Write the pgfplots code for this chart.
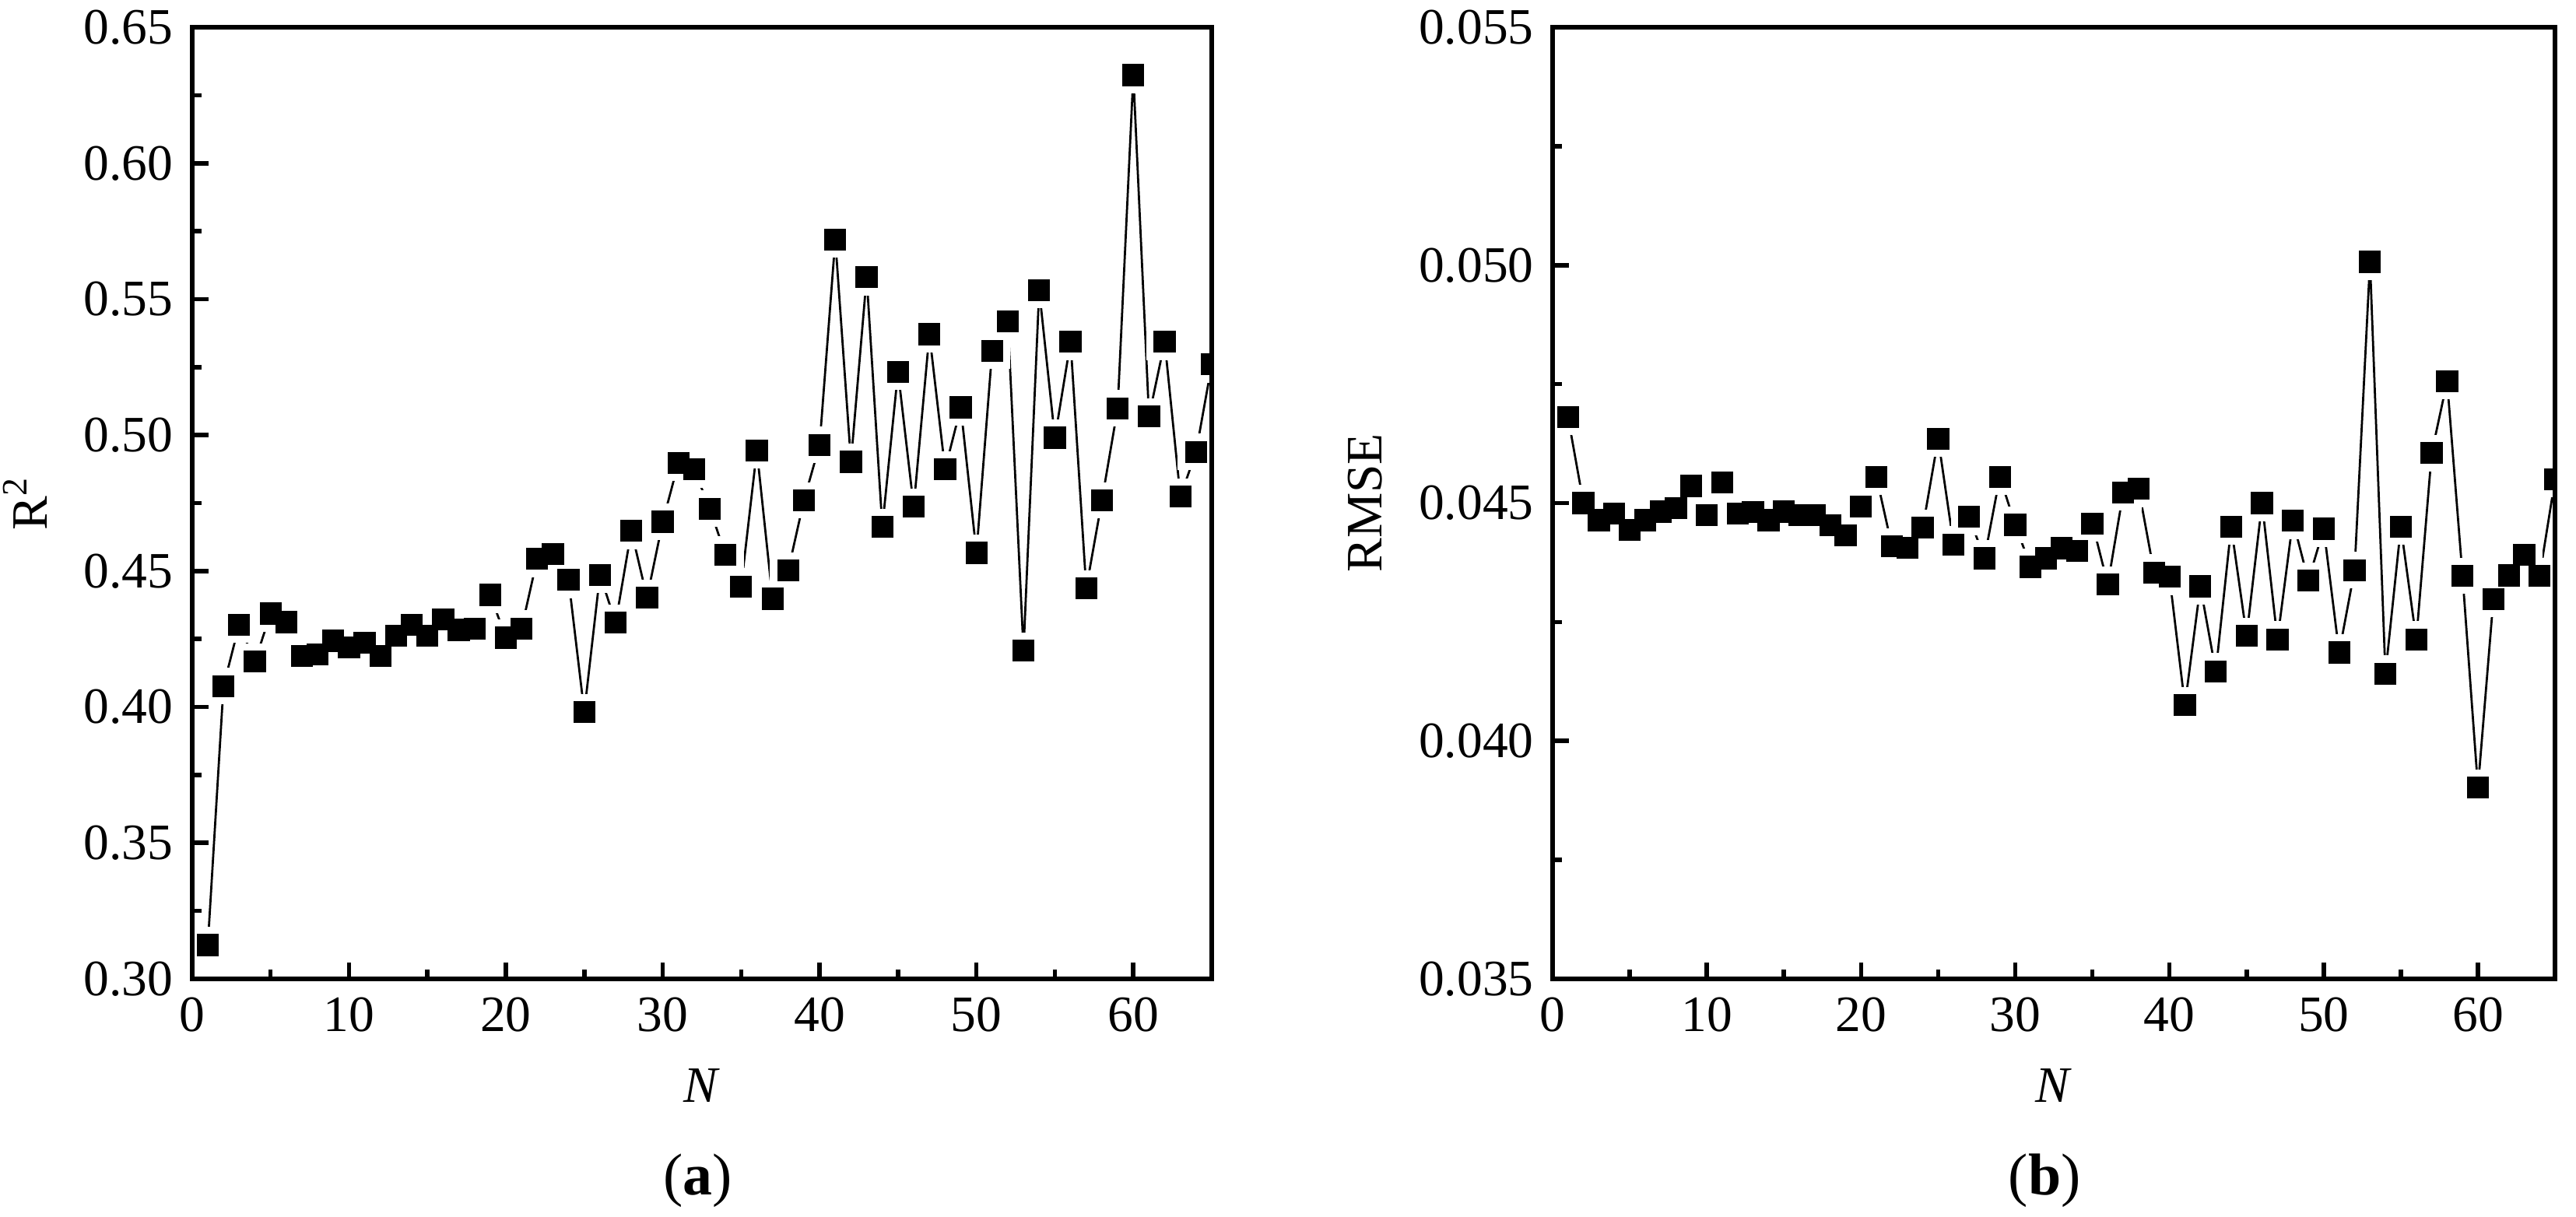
\documentclass[border=0pt]{standalone}
\usepackage{fontspec}
\setmainfont{Liberation Serif}
\usepackage{pgfplots}
\pgfplotsset{compat=1.18}
\usepackage{pgfplotstable}

\pgfplotstableread{
N R2 RMSE
1 0.3124 0.04681
2 0.4076 0.04500
3 0.4302 0.04464
4 0.4167 0.04478
5 0.4343 0.04443
6 0.4312 0.04464
7 0.4188 0.04482
8 0.4193 0.04489
9 0.4243 0.04536
10 0.4219 0.04475
11 0.4236 0.04543
12 0.4188 0.04478
13 0.4262 0.04481
14 0.4302 0.04464
15 0.4262 0.04482
16 0.4321 0.04475
17 0.4283 0.04475
18 0.4288 0.04453
19 0.4412 0.04432
20 0.4255 0.04492
21 0.4288 0.04555
22 0.4545 0.04409
23 0.4562 0.04406
24 0.4467 0.04448
25 0.3981 0.04635
26 0.4486 0.04413
27 0.4310 0.04471
28 0.4648 0.04384
29 0.4402 0.04555
30 0.4681 0.04454
31 0.4898 0.04366
32 0.4874 0.04384
33 0.4729 0.04405
34 0.4560 0.04399
35 0.4443 0.04457
36 0.4943 0.04329
37 0.4398 0.04522
38 0.4502 0.04530
39 0.4760 0.04354
40 0.4964 0.04345
41 0.5719 0.04075
42 0.4902 0.04325
43 0.5581 0.04146
44 0.4662 0.04450
45 0.5233 0.04221
46 0.4736 0.04500
47 0.5371 0.04213
48 0.4874 0.04463
49 0.5102 0.04337
50 0.4567 0.04446
51 0.5310 0.04186
52 0.5419 0.04359
53 0.4207 0.05007
54 0.5533 0.04141
55 0.4990 0.04450
56 0.5343 0.04213
57 0.4436 0.04605
58 0.4760 0.04756
59 0.5098 0.04347
60 0.6324 0.03902
61 0.5069 0.04298
62 0.5343 0.04348
63 0.4774 0.04391
64 0.4938 0.04347
65 0.5260 0.04550
}\data

\pgfplotsset{
  panel/.style={
    scale only axis, height=177.3pt,
    xmin=0, xmax=65, xtick={0,10,...,60},
    minor x tick num=1, minor y tick num=1,
    tick align=inside, tick pos=left,
    major tick length=3pt, minor tick length=1.7pt,
    axis line style={line width=0.8pt},
    every tick/.style={black, line width=0.8pt},
    tick label style={font=\fontsize{9.5}{11}\selectfont},
    label style={font=\fontsize{9.5}{11}\selectfont},
    /pgf/number format/assume math mode=true,
    scaled y ticks=false,
    xlabel={\textit{N}},
    clip marker paths=true,
    axis on top,
  },
  % white square behind each point leaves the gap between line and marker
  halo/.style={black, line width=0.4pt, mark=square*, mark size=3.2pt,
    mark options={draw=white, fill=white, line width=0.4pt}},
  dots/.style={only marks, mark=square*, mark size=1.85pt,
    mark options={draw=black, fill=black, line width=0.4pt}},
}

\begin{document}
\begin{tikzpicture}
\useasboundingbox (0,0) rectangle (480pt,226.8pt);

% (a) R^2
\begin{axis}[panel, width=190pt, at={(35.8pt,44.4pt)}, anchor=south west,
  ymin=0.30, ymax=0.65,
  ytick={0.30,0.35,0.40,0.45,0.50,0.55,0.60,0.65},
  yticklabel style={/pgf/number format/.cd, fixed, fixed zerofill, precision=2},
  ylabel={R\textsuperscript{2}}]
\addplot[halo] table[x=N, y=R2] {\data};
\addplot[dots] table[x=N, y=R2] {\data};
\end{axis}

% (b) RMSE
\begin{axis}[panel, width=186.8pt, at={(289.3pt,44.4pt)}, anchor=south west,
  ymin=0.035, ymax=0.055,
  ytick={0.035,0.040,0.045,0.050,0.055},
  yticklabel style={/pgf/number format/.cd, fixed, fixed zerofill, precision=3},
  ylabel={RMSE}]
\addplot[halo] table[x=N, y=RMSE] {\data};
\addplot[dots] table[x=N, y=RMSE] {\data};
\end{axis}

\node[font=\fontsize{11}{13}\selectfont] at (130pt,6.8pt) {(\textbf{a})};
\node[font=\fontsize{11}{13}\selectfont] at (381pt,6.8pt) {(\textbf{b})};
\end{tikzpicture}
\end{document}
